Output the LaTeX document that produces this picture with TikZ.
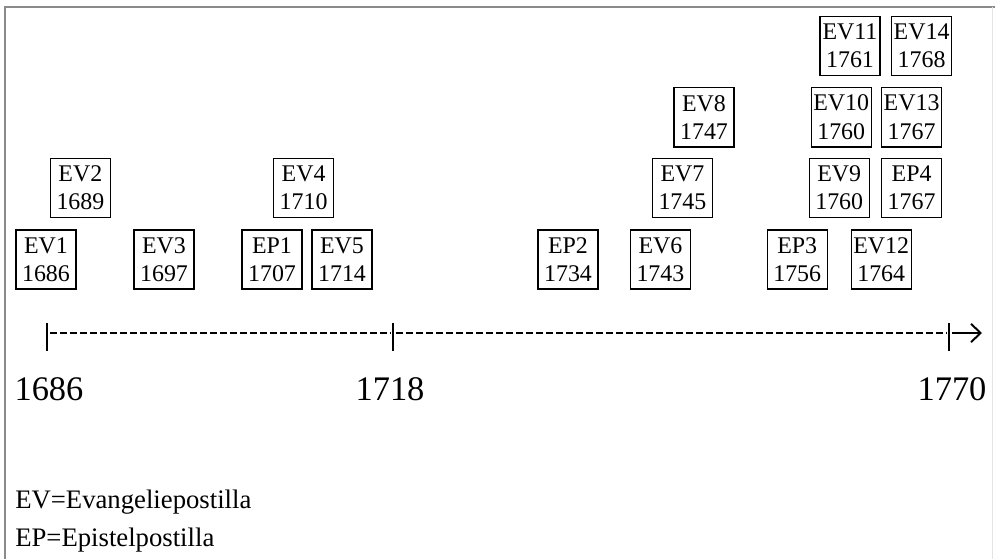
\documentclass[tikz,border=0pt]{standalone}
\usepackage{fontspec}
\setmainfont{Liberation Serif}
\usetikzlibrary{arrows.meta,positioning}
\definecolor{cram}{HTML}{8A8A8A}
\definecolor{cramh}{HTML}{E4E4E4}
\tikzset{
  ruta/.style={draw=black,line width=1pt,align=center,inner sep=0pt,
               minimum width=1.5cm,minimum height=1.48cm,
               font=\fontsize{17}{20}\selectfont},
  linje/.style={line width=1.5pt,dash pattern=on 0.17cm off 0.08cm},
  streck/.style={line width=1.5pt},
  pil/.style={-{Straight Barb[length=2.4mm,width=4.6mm]},line width=1.4pt},
  ar/.style={font=\fontsize{24.5}{29}\selectfont,inner sep=0pt},
  forkl/.style={font=\fontsize{19}{23}\selectfont,inner sep=0pt,anchor=base west},
  ram/.style={draw=cram,line width=0.8pt},
}
\begin{document}
\begin{tikzpicture}[x=1cm,y=1cm]
\useasboundingbox (0,0) rectangle (24.875,-13.975);
\draw[ram] (0.125,-13.975) |- (24.875,-0.175);
\draw[draw=cramh,line width=0.6pt] (24.8,-0.175) -- (24.8,-13.975);

% boxes, row by row
\node[ruta] (ev1)  at (1.15,-6.49)  {EV1\\1686};
\node[ruta] (ev3)  at (4.10,-6.49)  {EV3\\1697};
\node[ruta] (ep1)  at (6.80,-6.49)  {EP1\\1707};
\node[ruta] (ev5)  at (8.55,-6.49)  {EV5\\1714};
\node[ruta] (ep2)  at (14.20,-6.49) {EP2\\1734};
\node[ruta] (ev6)  at (16.51,-6.49) {EV6\\1743};
\node[ruta] (ep3)  at (19.93,-6.49) {EP3\\1756};
\node[ruta] (ev12) at (22.03,-6.49) {EV12\\1764};

\node[ruta] (ev2)  at (2.01,-4.70)  {EV2\\1689};
\node[ruta] (ev4)  at (7.59,-4.70)  {EV4\\1710};
\node[ruta] (ev7)  at (17.06,-4.70) {EV7\\1745};
\node[ruta] (ev9)  at (20.98,-4.70) {EV9\\1760};
\node[ruta] (ep4)  at (22.79,-4.70) {EP4\\1767};

\node[ruta] (ev8)  at (17.60,-2.93) {EV8\\1747};
\node[ruta] (ev10) at (21.03,-2.93) {EV10\\1760};
\node[ruta] (ev13) at (22.79,-2.93) {EV13\\1767};

\node[ruta] (ev11) at (21.25,-1.15) {EV11\\1761};
\node[ruta] (ev14) at (23.04,-1.15) {EV14\\1768};

% timeline
\coordinate (t0) at (1.175,-8.325);
\coordinate (t1) at (9.825,-8.325);
\coordinate (t2) at (23.725,-8.325);
\coordinate (slut) at (24.55,-8.325);
\draw[linje] ([xshift=2pt]t0) -- ([xshift=-2pt]t1);
\draw[linje] ([xshift=2pt]t1) -- ([xshift=-2pt]t2);
\foreach \t in {t0,t1,t2}
  \draw[streck] ([yshift=0.25cm]\t) -- ([yshift=-0.45cm]\t);
\draw[pil] ([xshift=0.08cm]t2) -- (slut);

\node[ar,anchor=base] (a0) at (1.225,-10.0) {1686};
\node[ar,anchor=base] (a1) at (9.75,-10.0)  {1718};
\node[ar,anchor=base] (a2) at (23.8,-10.0)  {1770};

\node[forkl] (fev) at (0.375,-12.7)  {EV=Evangeliepostilla};
\node[forkl] (fep) at (0.375,-13.65) {EP=Epistelpostilla};

\end{tikzpicture}
\end{document}
